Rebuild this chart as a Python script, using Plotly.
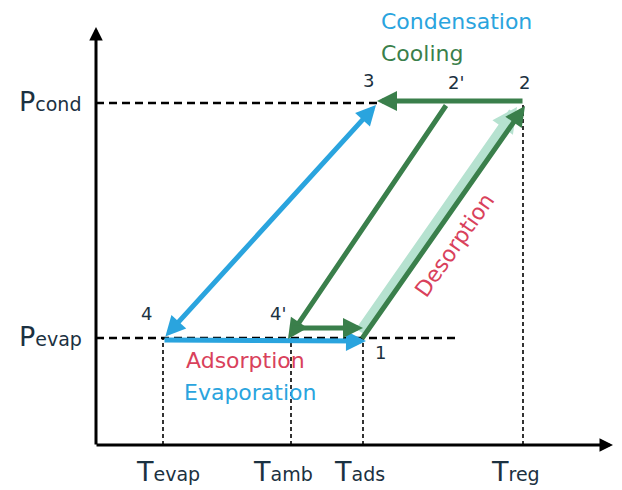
import plotly.graph_objects as go

W, H = 622, 490

# ---- data (schematic diagram coordinates, y measured upward) ----
temp_names = ["evap", "amb", "ads", "reg"]
temp_values = [163, 291, 363, 523]
pres_names = ["cond", "evap"]
pres_values = [387, 152]
state_names = ["1", "2", "2'", "3", "4", "4'"]
state_x = [363, 523, 447, 378, 163, 291]
state_y = [152, 387, 387, 387, 152, 152]
axis_origin = [96, 45]
axis_end = [613, 463]

T = dict(zip(temp_names, temp_values))
P = dict(zip(pres_names, pres_values))
S = {n: (x, y) for n, x, y in zip(state_names, state_x, state_y)}

NAVY = "#1b3141"
BLUE = "#2aa4de"
GREEN = "#3a7f4b"
LGREEN = "#b6e2d0"
RED = "#d9415b"
FONT = "DejaVu Sans"

fig = go.Figure()
fig.add_trace(go.Scatter(x=[0, W], y=[0, H], mode="markers",
                         marker=dict(opacity=0), hoverinfo="skip", showlegend=False))

shapes = []
shapes.append(dict(type="line", x0=axis_origin[0], x1=S["3"][0] + 2, y0=P["cond"], y1=P["cond"],
                   line=dict(color="black", width=2.5, dash="8px,5px")))
shapes.append(dict(type="line", x0=axis_origin[0], x1=460, y0=P["evap"], y1=P["evap"],
                   line=dict(color="black", width=2.5, dash="8px,5px")))
for name in temp_names:
    top = P["cond"] if name == "reg" else P["evap"]
    shapes.append(dict(type="line", x0=T[name], x1=T[name], y0=axis_origin[1], y1=top,
                       line=dict(color="black", width=1.6, dash="4px,3px")))

ann = []

def arrow(x0, y0, x1, y1, color, width, size=0.8, head=2, both=False):
    d = dict(x=x1, y=y1, ax=x0, ay=y0, xref="x", yref="y", axref="x", ayref="y",
             text="", showarrow=True, arrowhead=head, arrowsize=size, arrowwidth=width,
             arrowcolor=color, standoff=0, startstandoff=0)
    if both:
        d.update(arrowside="end+start", startarrowhead=head, startarrowsize=size)
    ann.append(d)

# axes
arrow(axis_origin[0], axis_origin[1] - 1, axis_origin[0], axis_end[1], "black", 3, size=0.9, head=2)
arrow(axis_origin[0] - 1, axis_origin[1], axis_end[0], axis_origin[1], "black", 3, size=0.9, head=2)

# light green desorption band (behind)
arrow(S["1"][0] - 4, S["1"][1] + 5, S["2"][0] - 6, S["2"][1] - 4, LGREEN, 10, size=0.5)
# blue diagonal 4 <-> 3
arrow(S["4"][0] + 1, S["4"][1], S["3"][0] - 2, S["3"][1] - 2, BLUE, 5, both=True)
# blue horizontal 4 -> 1
arrow(S["4"][0], S["4"][1] - 2, S["1"][0] + 3, S["1"][1] - 3, BLUE, 5)
# green top 2 -> 3
arrow(S["2"][0] + 1, S["2"][1] + 2, S["3"][0] - 1, S["3"][1] + 2, GREEN, 5)
# green cooling diagonal 2' -> 4'
arrow(S["2'"][0], S["2'"][1] - 1, S["4'"][0] - 3, S["4'"][1] - 1, GREEN, 5)
# green short 4' -> 1
arrow(S["4'"][0], S["4'"][1] + 10, S["1"][0], S["1"][1] + 10, GREEN, 5)
# green desorption 1 -> 2
arrow(S["1"][0] - 2, S["1"][1] - 2, S["2"][0] + 2, S["2"][1] - 3, GREEN, 5)

def label(x, y, text, color, size, xanchor="center", angle=0):
    ann.append(dict(x=x, y=y, xref="x", yref="y", text=text, showarrow=False,
                    xanchor=xanchor, yanchor="middle", textangle=angle,
                    font=dict(family=FONT, size=size, color=color)))

label_offsets = {"1": (17, -14), "2": (1, 21), "2'": (9, 21), "3": (-10, 23),
                 "4": (-17, 25), "4'": (-13, 25)}
for n in state_names:
    dx, dy = label_offsets[n]
    label(S[n][0] + dx, S[n][1] + dy, n, NAVY, 18)

label(379, 469, "Condensation", BLUE, 22, xanchor="left")
label(379, 437, "Cooling", GREEN, 22, xanchor="left")
label(184, 130, "Adsorption", RED, 22, xanchor="left")
label(182, 98, "Evaporation", BLUE, 22, xanchor="left")
label(454, 245, "Desorption", RED, 22, angle=-55)

for n, yv in zip(pres_names, pres_values):
    label(17, yv + 2, "P<span style='font-size:19px'>%s</span>" % n, NAVY, 27, xanchor="left")
temp_centers = {"evap": 168, "amb": 283, "ads": 359, "reg": 515}
for n in temp_names:
    label(temp_centers[n], 19, "T<span style='font-size:19px'>%s</span>" % n, NAVY, 27)

fig.update_layout(
    width=W, height=H, margin=dict(l=0, r=0, t=0, b=0),
    plot_bgcolor="white", paper_bgcolor="white",
    xaxis=dict(range=[0, W], visible=False, fixedrange=True),
    yaxis=dict(range=[0, H], visible=False, fixedrange=True),
    shapes=shapes, annotations=ann, showlegend=False,
)
fig.write_html("out.html", config={"displayModeBar": False},
               post_script="document.body.style.margin='0';document.body.style.overflow='hidden';")
